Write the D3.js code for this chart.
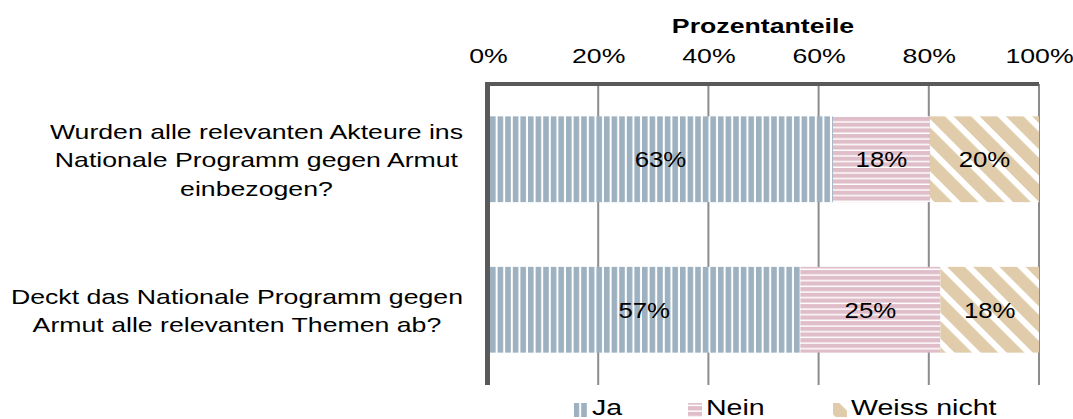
<!DOCTYPE html>
<html>
<head>
<meta charset="utf-8">
<script src="https://cdn.jsdelivr.net/npm/d3@7"></script>
<style>
  body { margin: 0; background: #fff; }
  svg text { font-family: "Liberation Sans", Arial, sans-serif; fill: #000; }
</style>
</head>
<body>
<svg id="chart"></svg>
<script>
// data
const questions = [
  ["Wurden alle relevanten Akteure ins", "Nationale Programm gegen Armut", "einbezogen?"],
  ["Deckt das Nationale Programm gegen", "Armut alle relevanten Themen ab?"]
];
const seriesNames = ["Ja", "Nein", "Weiss nicht"];
const jaValues = [62.6, 56.7];
const neinValues = [17.6, 25.4];
const weissValues = [19.8, 17.9];
const tickValues = [0, 20, 40, 60, 80, 100];
const axisTitle = "Prozentanteile";

const W = 1073, H = 419;
const SX = 1.27; // text in the reference is stretched sideways
const svg = d3.select("#chart").attr("width", W).attr("height", H);
const defs = svg.append("defs");

// patterns (Excel-like fills)
let p = defs.append("pattern").attr("id", "pJa").attr("patternUnits", "userSpaceOnUse")
  .attr("x", 490).attr("width", 7.6).attr("height", 10);
p.append("rect").attr("width", 7.6).attr("height", 10).attr("fill", "#fff");
p.append("rect").attr("width", 5.6).attr("height", 10).attr("fill", "#9eb1c0");

p = defs.append("pattern").attr("id", "pNein").attr("patternUnits", "userSpaceOnUse")
  .attr("y", 117).attr("width", 10).attr("height", 5.67);
p.append("rect").attr("width", 10).attr("height", 5.67).attr("fill", "#fff");
p.append("rect").attr("width", 10).attr("height", 4.2).attr("fill", "#dfbdc9");

p = defs.append("pattern").attr("id", "pWeiss").attr("patternUnits", "userSpaceOnUse")
  .attr("width", 18.5).attr("height", 20).attr("patternTransform", "rotate(-45)");
p.append("rect").attr("width", 18.5).attr("height", 20).attr("fill", "#fff");
p.append("rect").attr("width", 12.5).attr("height", 20).attr("fill", "#e0ccaa");

const fills = ["url(#pJa)", "url(#pNein)", "url(#pWeiss)"];

const x = d3.scaleLinear().domain([0, 100]).range([488, 1039]);
const y = d3.scaleBand().domain(d3.range(questions.length)).range([84, 385])
  .paddingInner(0.43).paddingOuter(0.215);

// gridlines
svg.append("g").selectAll("line").data(tickValues.slice(1)).join("line")
  .attr("x1", d => x(d)).attr("x2", d => x(d))
  .attr("y1", 84).attr("y2", 385)
  .attr("stroke", "#8c8c8c").attr("stroke-width", 2);

// stacked bars
const rows = questions.map((q, i) => ({ ja: jaValues[i], nein: neinValues[i], weiss: weissValues[i] }));
const stack = d3.stack().keys(["ja", "nein", "weiss"]);
const layers = stack(rows);

layers.forEach((layer, k) => {
  const g = svg.append("g");
  g.selectAll("rect").data(layer).join("rect")
    .attr("x", d => x(d[0]))
    .attr("y", (d, i) => y(i))
    .attr("width", d => x(d[1]) - x(d[0]))
    .attr("height", y.bandwidth())
    .attr("fill", fills[k]);
  g.selectAll("text").data(layer).join("text")
    .attr("transform", (d, i) => `translate(${(x(d[0]) + x(d[1])) / 2},${y(i) + y.bandwidth() / 2 + 8}) scale(1.2,1)`)
    .attr("text-anchor", "middle")
    .style("font-size", "21.5px")
    .text(d => Math.round(d[1] - d[0]) + "%");
});

// axis frame
svg.append("line").attr("x1", 485).attr("x2", 1039).attr("y1", 84).attr("y2", 84)
  .attr("stroke", "#595959").attr("stroke-width", 4);
svg.append("line").attr("x1", 487.5).attr("x2", 487.5).attr("y1", 82).attr("y2", 385)
  .attr("stroke", "#595959").attr("stroke-width", 5);

// top axis labels
const xAxis = d3.axisTop(x).tickValues(tickValues).tickFormat(d => d + "%").tickSize(0);
const ax = svg.append("g").attr("transform", "translate(0,63)").call(xAxis);
ax.select(".domain").remove();
ax.selectAll("text").attr("dy", 0).attr("y", 0)
  .attr("transform", `scale(${SX},1)`)
  .style("font-size", "21px")
  .style("font-family", "'Liberation Sans', Arial, sans-serif").attr("fill", "#000");

svg.append("text").attr("transform", `translate(763,33) scale(${SX},1)`).attr("text-anchor", "middle")
  .style("font-size", "21px").style("font-weight", "bold")
  .text(axisTitle);

// category labels: centred lines, block right-aligned
questions.forEach((lines, i) => {
  const g = svg.append("g");
  const cy = y(i) + y.bandwidth() / 2;
  const lh = 28.5;
  const t = g.selectAll("text").data(lines).join("text")
    .attr("text-anchor", "middle")
    .style("font-size", "21px")
    .text(d => d);
  const maxW = d3.max(t.nodes(), n => n.getComputedTextLength()) * SX;
  t.attr("transform", (d, j) =>
    `translate(${463 - maxW / 2},${cy + (j - (lines.length - 1) / 2) * lh + 8}) scale(${SX},1)`);
});

// legend
const legX = [574, 688, 833];
const leg = svg.append("g");
seriesNames.forEach((name, k) => {
  leg.append("rect").attr("x", legX[k]).attr("y", 403).attr("width", 14).attr("height", 14)
    .attr("fill", fills[k]);
  leg.append("text").attr("transform", `translate(${legX[k] + 18},415) scale(${SX},1)`)
    .style("font-size", "22.5px").text(name);
});
</script>
</body>
</html>
